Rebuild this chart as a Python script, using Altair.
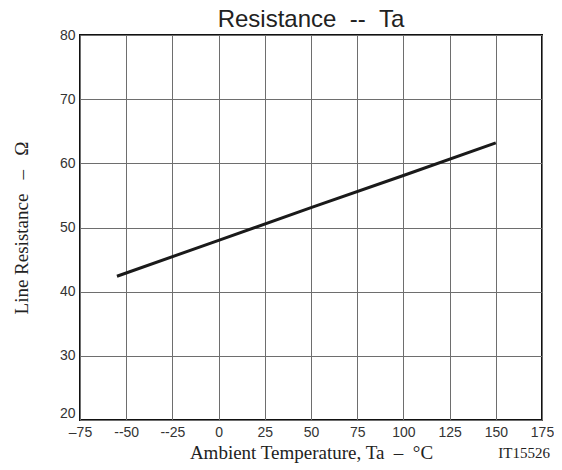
import altair as alt
import pandas as pd

# Data
temps = [-55, 0, 50, 100, 150]
resist = [42.4, 48.0, 53.1, 58.1, 63.2]

x_ticks = [-75, -50, -25, 0, 25, 50, 75, 100, 125, 150, 175]
y_ticks = [20, 30, 40, 50, 60, 70, 80]

title_text = "Resistance\u00a0\u00a0--\u00a0\u00a0Ta"
x_title = "Ambient Temperature, Ta\u00a0\u00a0\u2013\u00a0\u00a0\u00b0C"
y_title = "Line Resistance\u00a0\u00a0\u00a0\u2013\u00a0\u00a0\u00a0\u03a9"
code_text = "IT15526"

df = pd.DataFrame({"Ta": temps, "R": resist})

W, H = 462, 385

x_label_expr = ("datum.value == -75 ? '\u201375' : "
                "(datum.value < 0 ? '--' + abs(datum.value) : datum.label)")

line = alt.Chart(df).mark_line(color="#1a1a1a", strokeWidth=3).encode(
    x=alt.X("Ta:Q",
            scale=alt.Scale(domain=[-75, 175], nice=False, zero=False),
            axis=alt.Axis(values=x_ticks, labelExpr=x_label_expr,
                          title=x_title,
                          titleY=38, titleBaseline="alphabetic",
                          labelPadding=5)),
    y=alt.Y("R:Q",
            scale=alt.Scale(domain=[20, 80], nice=False, zero=False),
            axis=alt.Axis(values=y_ticks,
                          title=y_title,
                          titleX=-53, titleBaseline="alphabetic",
                          labelPadding=5,
                          labelBaseline={"condition": {"test": "datum.value == 20",
                                                       "value": "bottom"},
                                         "value": "middle"})),
)

code = alt.Chart(pd.DataFrame({"x": [175], "t": [code_text]})).mark_text(
    font="Liberation Serif", fontSize=15, color="#222222", align="right",
    baseline="alphabetic", dx=8,
).encode(
    x=alt.X("x:Q"),
    y=alt.value(H + 38),
    text="t:N",
)

title = alt.Chart(pd.DataFrame({"t": [title_text]})).mark_text(
    font="Liberation Sans", fontSize=24, color="#222222", align="center",
    baseline="alphabetic",
).encode(
    x=alt.value(W / 2),
    y=alt.value(-8),
    text="t:N",
)

chart = alt.layer(line, code, title).properties(
    width=W, height=H,
    autosize=alt.AutoSizeParams(type="none"),
    padding={"left": 72, "top": 27, "right": 12, "bottom": 46},
).configure_view(
    stroke="#111111", strokeWidth=2
).configure_axis(
    grid=True, gridColor="#6e6e6e", gridWidth=1, gridOpacity=1,
    ticks=False, tickSize=0, domain=False,
    labelFont="Liberation Sans", labelFontSize=14, labelColor="#333333",
    titleFont="Liberation Serif", titleFontSize=19, titleColor="#222222",
    titleFontWeight="normal",
).configure_axisX(labelFlush=False)

chart.save("out.html", embed_options={"renderer": "svg", "actions": False})
